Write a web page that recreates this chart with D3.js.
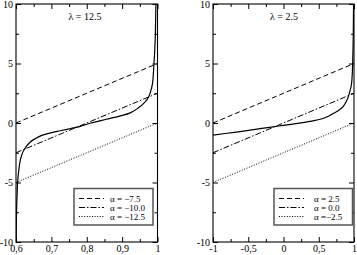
<!DOCTYPE html>
<html lang="en">
<head>
<meta charset="UTF-8">
<title>lambda alpha</title>
<script src="https://d3js.org/d3.v7.min.js"></script>
<style>
    body { margin: 0; background: #fff; }
    text { font-family: "Liberation Serif", "Times New Roman", Times, serif; font-size: 10px; fill: #000; }
    .legend text { font-size: 9px; }
    .tick line { stroke: #000; }
</style>
</head>
<body>
<script>

    // values
    var yTicks = [-10, -5, 0, 5, 10];
    var yMinor = [-7.5, -2.5, 2.5, 7.5];

    var leftXTicks = [0.6, 0.7, 0.8, 0.9, 1];
    var leftXMinor = [0.65, 0.75, 0.85, 0.95];
    var leftXLabels = ["0,6", "0,7", "0,8", "0,9", "1"];
    var rightXTicks = [-1, -0.5, 0, 0.5, 1];
    var rightXMinor = [-0.75, -0.25, 0.25, 0.75];
    var rightXLabels = ["-1", "-0,5", "0", "0,5", "1"];

    var leftTitle = "λ = 12.5";
    var rightTitle = "λ = 2.5";
    var leftLegend = ["α = −7.5", "α = −10.0", "α = −12.5"];
    var rightLegend = ["α = 2.5", "α = 0.0", "α =−2.5"];

    // straight lines (start and end points)
    var leftLines = [
        [[0.6, 0], [1, 5]],
        [[0.6, -2.5], [1, 2.5]],
        [[0.6, -5], [1, 0]]
    ];
    var rightLines = [
        [[-1, 0], [1, 5]],
        [[-1, -2.5], [1, 2.5]],
        [[-1, -5], [1, 0]]
    ];

    var leftCurve = [
        [0.6004, -10], [0.6012, -8], [0.6025, -6.5], [0.604, -5.3], [0.607, -4.2],
        [0.6113, -3.25], [0.618, -2.55], [0.6255, -2.13], [0.6397, -1.62], [0.655, -1.3],
        [0.668, -1.1], [0.695, -0.85], [0.725, -0.65], [0.755, -0.46], [0.78, -0.3],
        [0.81, -0.02], [0.84, 0.2], [0.867, 0.39], [0.895, 0.6], [0.923, 0.85],
        [0.945, 1.25], [0.961, 1.65], [0.975, 2.2], [0.982, 2.8], [0.987, 3.6],
        [0.99, 5.0], [0.9925, 6.3], [0.994, 7.5], [0.9955, 10]
    ];
    var rightCurve = [
        [-1, -1.02], [-0.8, -0.86], [-0.64, -0.74], [-0.4, -0.54], [-0.2, -0.36],
        [0.0, -0.2], [0.15, -0.08], [0.3, 0.06], [0.45, 0.22], [0.58, 0.42],
        [0.706, 0.8], [0.79, 1.1], [0.848, 1.4], [0.89, 1.8], [0.919, 2.2],
        [0.945, 2.75], [0.967, 3.4], [0.981, 5.0], [0.986, 6.2], [0.99, 7.5], [0.994, 10]
    ];

    var dashes = ["5,3", "6,2,1.5,2", "1,1.6"];

    var W = 357, H = 255;
    var yTop = 4, yBottom = 242;

    var svg = d3.select("body").append("svg")
            .attr("width", W)
            .attr("height", H);

    var panels = [
        {x0: 16, x1: 157.5, domain: [0.6, 1], ticks: leftXTicks, minor: leftXMinor, labels: leftXLabels,
            title: leftTitle, legend: leftLegend, lines: leftLines, curve: leftCurve,
            box: [74, 188.5, 79, 36.5], textX: 31, titleX: 85},
        {x0: 213, x1: 354, domain: [-1, 1], ticks: rightXTicks, minor: rightXMinor, labels: rightXLabels,
            title: rightTitle, legend: rightLegend, lines: rightLines, curve: rightCurve,
            box: [274, 188.5, 78.5, 36.5], textX: 35, titleX: 284}
    ];

    panels.forEach(function(p, i) {
        var xScale = d3.scaleLinear().domain(p.domain).range([p.x0, p.x1]);
        var yScale = d3.scaleLinear().domain([-10, 10]).range([yBottom, yTop]);

        var g = svg.append("g");

        // ticks (inward, on all four sides)
        function addAxis(axis, tx, ty) {
            var a = g.append("g")
                .attr("transform", "translate(" + tx + "," + ty + ")")
                .call(axis);
            a.select(".domain").remove();
            return a;
        }

        var xb = addAxis(d3.axisBottom(xScale).tickValues(p.ticks).tickSize(-5).tickPadding(2)
            .tickFormat(function(d, k){ return p.labels[k]; }), 0, yBottom);
        xb.selectAll("text").attr("dy", "0.75em");
        addAxis(d3.axisBottom(xScale).tickValues(p.minor).tickSize(-3).tickFormat(""), 0, yBottom);
        addAxis(d3.axisTop(xScale).tickValues(p.ticks).tickSize(-5).tickFormat(""), 0, yTop);
        addAxis(d3.axisTop(xScale).tickValues(p.minor).tickSize(-3).tickFormat(""), 0, yTop);

        addAxis(d3.axisLeft(yScale).tickValues(yTicks).tickSize(-5).tickPadding(3)
            .tickFormat(function(d){ return String(d); }), p.x0, 0);
        addAxis(d3.axisLeft(yScale).tickValues(yMinor).tickSize(-3).tickFormat(""), p.x0, 0);
        addAxis(d3.axisRight(yScale).tickValues(yTicks).tickSize(-5).tickFormat(""), p.x1, 0);
        addAxis(d3.axisRight(yScale).tickValues(yMinor).tickSize(-3).tickFormat(""), p.x1, 0);

        g.selectAll("g").attr("font-family", null).attr("font-size", null);

        // clip
        svg.append("clipPath").attr("id", "clip" + i)
            .append("rect")
            .attr("x", p.x0).attr("y", yTop)
            .attr("width", p.x1 - p.x0).attr("height", yBottom - yTop);

        var line = d3.line()
            .x(function(d){ return xScale(d[0]); })
            .y(function(d){ return yScale(d[1]); });

        var plot = g.append("g").attr("clip-path", "url(#clip" + i + ")");

        plot.selectAll(".ref")
            .data(p.lines).enter()
            .append("path")
            .attr("d", line)
            .attr("fill", "none")
            .attr("stroke", "#000")
            .attr("stroke-width", 1)
            .attr("stroke-dasharray", function(d, k){ return dashes[k]; });

        plot.append("path")
            .datum(p.curve)
            .attr("d", line.curve(d3.curveMonotoneX))
            .attr("fill", "none")
            .attr("stroke", "#000")
            .attr("stroke-width", 1.2);

        // frame
        g.append("rect")
            .attr("x", p.x0).attr("y", yTop)
            .attr("width", p.x1 - p.x0).attr("height", yBottom - yTop)
            .attr("fill", "none")
            .attr("stroke", "#000")
            .attr("stroke-width", 1.1);

        g.append("text")
            .attr("x", p.titleX).attr("y", 20)
            .attr("text-anchor", "middle")
            .text(p.title);

        // legend
        var b = p.box;
        var leg = g.append("g").attr("class", "legend");
        leg.append("rect")
            .attr("x", b[0]).attr("y", b[1])
            .attr("width", b[2]).attr("height", b[3])
            .attr("fill", "#fff")
            .attr("stroke", "#555")
            .attr("stroke-width", 1.5);

        var rows = leg.selectAll(".row")
            .data(p.legend).enter()
            .append("g")
            .attr("class", "row")
            .attr("transform", function(d, k){ return "translate(" + (b[0] + 5) + "," + (b[1] + 10 + k * 9) + ")"; });

        rows.append("line")
            .attr("x1", 0).attr("x2", 25)
            .attr("stroke", "#000")
            .attr("stroke-dasharray", function(d, k){ return dashes[k]; });

        rows.append("text")
            .attr("x", p.textX).attr("dy", "0.35em")
            .text(function(d){ return d; });
    });

</script>
</body>
</html>
